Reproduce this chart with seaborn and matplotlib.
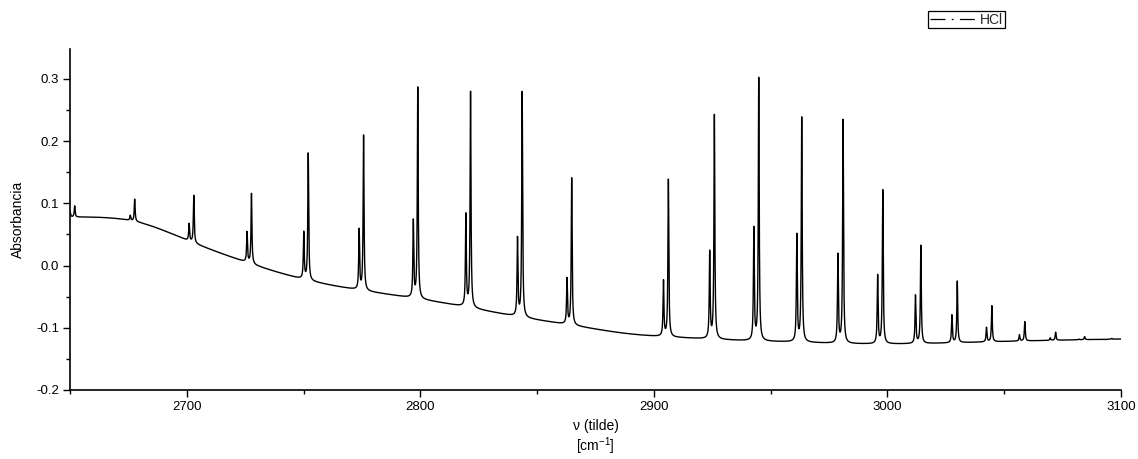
import numpy as np
import pandas as pd
import matplotlib
matplotlib.use("Agg")
import matplotlib.pyplot as plt
from matplotlib.lines import Line2D
from matplotlib.ticker import MultipleLocator, FormatStrFormatter
import seaborn as sns

# ---- data ----
baseline_nu = [2650, 2665, 2680, 2700, 2725, 2750, 2775, 2798, 2820, 2843,
               2865, 2890, 2903, 2923, 2941, 2960, 2977, 3000, 3050, 3100]
baseline_abs = [0.078, 0.077, 0.069, 0.041, 0.006, -0.022, -0.040, -0.053, -0.067, -0.083,
                -0.096, -0.110, -0.114, -0.118, -0.121, -0.123, -0.125, -0.126, -0.122, -0.118]

h35_nu = [2652.0, 2677.7, 2703.0, 2727.7, 2752.0, 2775.7, 2798.9, 2821.5, 2843.6, 2864.8,
          2906.2, 2925.9, 2944.9, 2963.3, 2981.0, 2998.0, 3014.3, 3029.9, 3044.7, 3058.8,
          3072.0, 3084.4, 3096.0]
h35_top = [0.096, 0.107, 0.113, 0.117, 0.181, 0.212, 0.290, 0.283, 0.280, 0.141,
           0.139, 0.246, 0.306, 0.242, 0.235, 0.122, 0.034, -0.024, -0.064, -0.090,
           -0.107, -0.114, -0.117]

h37_nu = [2650.1, 2675.8, 2701.0, 2725.8, 2750.1, 2773.8, 2797.0, 2819.5, 2841.6, 2862.8,
          2904.1, 2923.9, 2942.8, 2961.2, 2978.8, 2995.8, 3012.0, 3027.6, 3042.4, 3056.5,
          3069.7, 3082.0, 3093.6]
h37_top = [0.086, 0.081, 0.068, 0.055, 0.056, 0.060, 0.075, 0.086, 0.047, -0.019,
           -0.022, 0.026, 0.063, 0.052, 0.020, -0.014, -0.047, -0.079, -0.099, -0.111,
           -0.116, -0.118, -0.119]

x_ticks = [2700, 2800, 2900, 3000, 3100]
y_ticks = [-0.2, -0.1, 0.0, 0.1, 0.2, 0.3]
series_name = "HCl"
line_hwhm = 0.22


def natural_spline(xk, yk, xq):
    xk = np.asarray(xk, float)
    yk = np.asarray(yk, float)
    n = len(xk)
    h = np.diff(xk)
    A = np.zeros((n, n))
    r = np.zeros(n)
    A[0, 0] = A[-1, -1] = 1.0
    for i in range(1, n - 1):
        A[i, i - 1] = h[i - 1]
        A[i, i] = 2 * (h[i - 1] + h[i])
        A[i, i + 1] = h[i]
        r[i] = 6 * ((yk[i + 1] - yk[i]) / h[i] - (yk[i] - yk[i - 1]) / h[i - 1])
    m = np.linalg.solve(A, r)
    idx = np.clip(np.searchsorted(xk, xq) - 1, 0, n - 2)
    x0, x1 = xk[idx], xk[idx + 1]
    hh = x1 - x0
    t0, t1 = x1 - xq, xq - x0
    return (m[idx] * t0 ** 3 / (6 * hh) + m[idx + 1] * t1 ** 3 / (6 * hh)
            + (yk[idx] / hh - m[idx] * hh / 6) * t0
            + (yk[idx + 1] / hh - m[idx + 1] * hh / 6) * t1)


# ---- build spectrum: baseline + Lorentzian lines at the read positions ----
nu = np.arange(2650.0, 3100.0001, 0.04)
base = natural_spline(baseline_nu, baseline_abs, nu)
centers = np.array(h35_nu + h37_nu)
tops = np.array(h35_top + h37_top)
lor = lambda x, c: 1.0 / (1.0 + ((x - c) / line_hwhm) ** 2)
M = lor(centers[:, None], centers[None, :])
amps = np.linalg.solve(M, tops - natural_spline(baseline_nu, baseline_abs, centers))
spec = base + (amps[None, :] * lor(nu[:, None], centers[None, :])).sum(axis=1)

df = pd.DataFrame({"nu": nu, "A": spec})

# ---- plot ----
sns.set_theme(style="ticks")
plt.rcParams["font.family"] = ["Liberation Sans", "DejaVu Sans"]
plt.rcParams["axes.unicode_minus"] = False
plt.rcParams["mathtext.fontset"] = "custom"
plt.rcParams["mathtext.rm"] = "Liberation Sans"
plt.rcParams["mathtext.it"] = "Liberation Sans:italic"

fig = plt.figure(figsize=(11.38, 4.59), dpi=100)
ax = fig.add_axes([70 / 1138, 1 - 390 / 459, (1121 - 70) / 1138, (390 - 49) / 459])

sns.lineplot(data=df, x="nu", y="A", ax=ax, color="black", linewidth=1.0,
             estimator=None, sort=False, legend=False)

ax.set_xlim(2650, 3100)
ax.set_ylim(-0.2, 0.348)
ax.set_xticks(x_ticks)
ax.set_yticks(y_ticks)
ax.xaxis.set_minor_locator(MultipleLocator(50))
ax.yaxis.set_minor_locator(MultipleLocator(0.05))
ax.yaxis.set_major_formatter(FormatStrFormatter("%.1f"))
ax.tick_params(axis="both", which="major", direction="out", length=5, width=1.0,
               labelsize=9.5, colors="black", pad=3)
ax.tick_params(axis="both", which="minor", direction="out", length=3, width=1.0, colors="black")

for s in ["top", "right"]:
    ax.spines[s].set_visible(False)
for s in ["left", "bottom"]:
    ax.spines[s].set_linewidth(1.2)
    ax.spines[s].set_color("black")

ax.set_xlabel("\u03bd (tilde)\n[cm$^{-1}$]", fontsize=10, color="black", labelpad=4,
              linespacing=1.2)
ax.set_ylabel("Absorbancia", fontsize=10, color="black", labelpad=8)

handle = Line2D([], [], color="black", linewidth=0.9, dashes=(12, 5, 1.5, 5))
leg = fig.legend([handle], [series_name], loc="upper right",
                 bbox_to_anchor=(1005 / 1138, 1 - 11 / 459), frameon=True,
                 fancybox=False, edgecolor="black", framealpha=1, fontsize=10,
                 handlelength=3.4, handletextpad=0.25, borderpad=0.12,
                 borderaxespad=0.0)
leg.get_frame().set_linewidth(0.9)

fig.savefig("out.png", dpi=100, facecolor="white")
